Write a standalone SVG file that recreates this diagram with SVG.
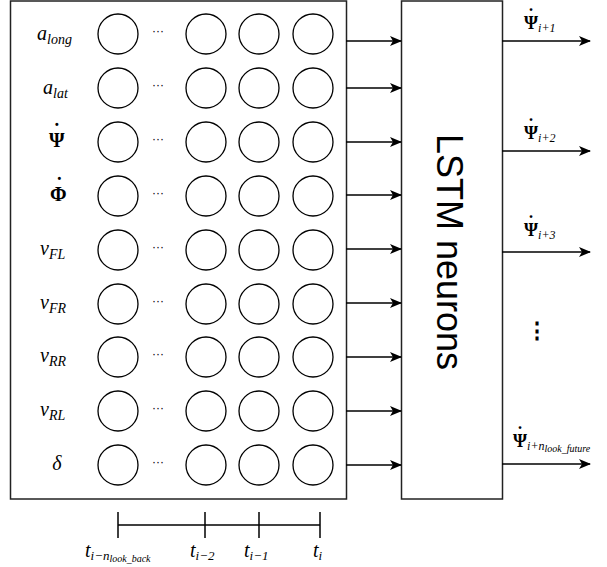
<svg xmlns="http://www.w3.org/2000/svg" width="607" height="567" viewBox="0 0 607 567">
<defs>
<style>
.box{fill:#fff;stroke:#222;stroke-width:1.5}
.n{fill:#fff;stroke:#000;stroke-width:1.3}
.c{stroke:#000;stroke-width:1.5;fill:none}
.m{font-family:"Liberation Serif","DejaVu Serif",serif;font-size:20px;fill:#000}
.i{font-style:italic}
.b{font-weight:bold}
.s{font-size:14px;font-style:italic;font-weight:normal}
.s2{font-size:10px;font-style:italic;font-weight:normal}
.d{font-family:"Liberation Sans",sans-serif;font-size:12px;fill:#000}
.big{font-family:"Liberation Sans","Arial",sans-serif;font-size:36px;fill:#000}
</style>
<marker id="ah" viewBox="0 0 12 10" refX="11" refY="5" markerWidth="12" markerHeight="10" markerUnits="userSpaceOnUse" orient="auto">
<path d="M0,0 L12,5 L0,10 L3,5 z" fill="#000"/>
</marker>
</defs>
<g id="input-box">
<rect class="box" x="10.5" y="1" width="336" height="498"/>
</g>
<g id="lstm">
<rect class="box" x="401.5" y="1" width="101" height="498"/>
<text class="big" transform="translate(437,252) rotate(90)" text-anchor="middle">LSTM neurons</text>
</g>
<g id="labels-in">
<text class="m i" x="37" y="40">a<tspan class="s" dy="4">long</tspan></text>
<text class="m i" x="43" y="94">a<tspan class="s" dy="4">lat</tspan></text>
<text class="m b" x="49" y="147">Ψ<tspan dx="-11" dy="-9">˙</tspan></text>
<text class="m b" x="50" y="201">Φ<tspan dx="-10.5" dy="-9">˙</tspan></text>
<text class="m i" x="40" y="255">v<tspan class="s" dy="4">FL</tspan></text>
<text class="m i" x="40" y="309">v<tspan class="s" dy="4">FR</tspan></text>
<text class="m i" x="40" y="362">v<tspan class="s" dy="4">RR</tspan></text>
<text class="m i" x="40" y="416">v<tspan class="s" dy="4">RL</tspan></text>
<text class="m i" x="57" y="470" text-anchor="middle">δ</text>
</g>
<g id="neurons">
<g id="row1"><circle class="n" cx="118" cy="34" r="20"/><text class="d" x="158" y="35" text-anchor="middle">···</text><circle class="n" cx="206" cy="34" r="20"/><circle class="n" cx="259" cy="34" r="20"/><circle class="n" cx="313" cy="34" r="20"/></g>
<g id="row2"><circle class="n" cx="118" cy="88" r="20"/><text class="d" x="158" y="89" text-anchor="middle">···</text><circle class="n" cx="206" cy="88" r="20"/><circle class="n" cx="259" cy="88" r="20"/><circle class="n" cx="313" cy="88" r="20"/></g>
<g id="row3"><circle class="n" cx="118" cy="142" r="20"/><text class="d" x="158" y="143" text-anchor="middle">···</text><circle class="n" cx="206" cy="142" r="20"/><circle class="n" cx="259" cy="142" r="20"/><circle class="n" cx="313" cy="142" r="20"/></g>
<g id="row4"><circle class="n" cx="118" cy="196" r="20"/><text class="d" x="158" y="197" text-anchor="middle">···</text><circle class="n" cx="206" cy="196" r="20"/><circle class="n" cx="259" cy="196" r="20"/><circle class="n" cx="313" cy="196" r="20"/></g>
<g id="row5"><circle class="n" cx="118" cy="250" r="20"/><text class="d" x="158" y="251" text-anchor="middle">···</text><circle class="n" cx="206" cy="250" r="20"/><circle class="n" cx="259" cy="250" r="20"/><circle class="n" cx="313" cy="250" r="20"/></g>
<g id="row6"><circle class="n" cx="118" cy="304" r="20"/><text class="d" x="158" y="305" text-anchor="middle">···</text><circle class="n" cx="206" cy="304" r="20"/><circle class="n" cx="259" cy="304" r="20"/><circle class="n" cx="313" cy="304" r="20"/></g>
<g id="row7"><circle class="n" cx="118" cy="357" r="20"/><text class="d" x="158" y="358" text-anchor="middle">···</text><circle class="n" cx="206" cy="357" r="20"/><circle class="n" cx="259" cy="357" r="20"/><circle class="n" cx="313" cy="357" r="20"/></g>
<g id="row8"><circle class="n" cx="118" cy="411" r="20"/><text class="d" x="158" y="412" text-anchor="middle">···</text><circle class="n" cx="206" cy="411" r="20"/><circle class="n" cx="259" cy="411" r="20"/><circle class="n" cx="313" cy="411" r="20"/></g>
<g id="row9"><circle class="n" cx="118" cy="465" r="20"/><text class="d" x="158" y="466" text-anchor="middle">···</text><circle class="n" cx="206" cy="465" r="20"/><circle class="n" cx="259" cy="465" r="20"/><circle class="n" cx="313" cy="465" r="20"/></g>
</g>
<g id="connectors">
<line class="c" x1="346" y1="41" x2="401" y2="41" marker-end="url(#ah)"/>
<line class="c" x1="346" y1="88" x2="401" y2="88" marker-end="url(#ah)"/>
<line class="c" x1="346" y1="142" x2="401" y2="142" marker-end="url(#ah)"/>
<line class="c" x1="346" y1="195" x2="401" y2="195" marker-end="url(#ah)"/>
<line class="c" x1="346" y1="249" x2="401" y2="249" marker-end="url(#ah)"/>
<line class="c" x1="346" y1="303" x2="401" y2="303" marker-end="url(#ah)"/>
<line class="c" x1="346" y1="357" x2="401" y2="357" marker-end="url(#ah)"/>
<line class="c" x1="346" y1="411" x2="401" y2="411" marker-end="url(#ah)"/>
<line class="c" x1="346" y1="465" x2="401" y2="465" marker-end="url(#ah)"/>
<line class="c" x1="502" y1="41" x2="590" y2="41" marker-end="url(#ah)"/>
<line class="c" x1="502" y1="151" x2="590" y2="151" marker-end="url(#ah)"/>
<line class="c" x1="502" y1="252" x2="590" y2="252" marker-end="url(#ah)"/>
<line class="c" x1="502" y1="464" x2="590" y2="464" marker-end="url(#ah)"/>
</g>
<g id="labels-out">
<text class="m b" x="524" y="29" style="font-size:18px">Ψ<tspan dx="-10" dy="-8">˙</tspan><tspan class="s" dx="4" dy="11" style="font-size:12px">i+1</tspan></text>
<text class="m b" x="524" y="139" style="font-size:18px">Ψ<tspan dx="-10" dy="-8">˙</tspan><tspan class="s" dx="4" dy="11" style="font-size:12px">i+2</tspan></text>
<text class="m b" x="524" y="236" style="font-size:18px">Ψ<tspan dx="-10" dy="-8">˙</tspan><tspan class="s" dx="4" dy="11" style="font-size:12px">i+3</tspan></text>
<text class="m b" x="513" y="447" style="font-size:18px">Ψ<tspan dx="-10" dy="-8">˙</tspan><tspan class="s" dx="4" dy="11" style="font-size:12px">i+n</tspan><tspan class="s2" dy="2">look_future</tspan></text>
<text class="d" x="537" y="338" text-anchor="middle" style="font-size:22px;font-weight:bold">⋮</text>
</g>
<g id="timeline">
<line class="c" x1="118" y1="525" x2="320" y2="525"/>
<line class="c" x1="118" y1="512" x2="118" y2="538"/>
<line class="c" x1="205" y1="512" x2="205" y2="538"/>
<line class="c" x1="259" y1="512" x2="259" y2="538"/>
<line class="c" x1="320" y1="512" x2="320" y2="538"/>
<text class="m i" x="85" y="557" style="font-size:20px">t<tspan class="s" dy="3" style="font-size:13px">i−n</tspan><tspan class="s2" dy="2" style="font-size:10px">look_back</tspan></text>
<text class="m i" x="190" y="557" style="font-size:20px">t<tspan class="s" dy="3" style="font-size:13px">i−2</tspan></text>
<text class="m i" x="244" y="557" style="font-size:20px">t<tspan class="s" dy="3" style="font-size:13px">i−1</tspan></text>
<text class="m i" x="313" y="557" style="font-size:20px">t<tspan class="s" dy="3" style="font-size:13px">i</tspan></text>
</g>
</svg>
